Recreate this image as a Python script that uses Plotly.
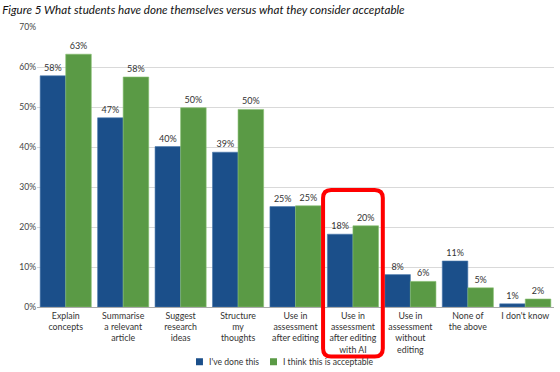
import plotly.graph_objects as go

categories = [
    "Explain<br>concepts",
    "Summarise<br>a relevant<br>article",
    "Suggest<br>research<br>ideas",
    "Structure<br>my<br>thoughts",
    "Use in<br>assessment<br>after editing",
    "Use in<br>assessment<br>after editing<br>with AI",
    "Use in<br>assessment<br>without<br>editing",
    "None of<br>the above",
    "I don't know",
]
done_values = [57.8, 47.3, 40.1, 38.7, 25.1, 18.2, 8.1, 11.5, 0.8]
done_labels = ["58%", "47%", "40%", "39%", "25%", "18%", "8%", "11%", "1%"]
accept_values = [63.2, 57.5, 49.8, 49.4, 25.3, 20.3, 6.4, 4.8, 2.0]
accept_labels = ["63%", "58%", "50%", "50%", "25%", "20%", "6%", "5%", "2%"]
series_names = ["I've done this", "I think this is acceptable"]
y_ticks = [0, 10, 20, 30, 40, 50, 60, 70]
y_tick_labels = ["0%", "10%", "20%", "30%", "40%", "50%", "60%", "70%"]

BLUE = "#1b4f8a"
GREEN = "#5a9a45"
FONT = "Lato, Open Sans, sans-serif"

fig = go.Figure()
fig.add_trace(go.Bar(
    name=series_names[0], x=categories, y=done_values,
    text=done_labels, textposition="outside", cliponaxis=False,
    marker=dict(color=BLUE, line=dict(color="#4a78ad", width=0.6)),
    textfont=dict(size=9, color="#333333"), showlegend=False,
))
fig.add_trace(go.Bar(
    name=series_names[1], x=categories, y=accept_values,
    text=accept_labels, textposition="outside", cliponaxis=False,
    marker=dict(color=GREEN, line=dict(color="#86bf70", width=0.6)),
    textfont=dict(size=9, color="#333333"), showlegend=False,
))

# highlight box around the "with AI" category
x0, x1 = 4.48, 5.52
y0, y1 = -0.177, 0.418
rx, ry = 0.14, 0.029
path = (f"M {x0+rx},{y0} L {x1-rx},{y0} Q {x1},{y0} {x1},{y0+ry} "
        f"L {x1},{y1-ry} Q {x1},{y1} {x1-rx},{y1} L {x0+rx},{y1} "
        f"Q {x0},{y1} {x0},{y1-ry} L {x0},{y0+ry} Q {x0},{y0} {x0+rx},{y0} Z")
fig.add_shape(type="path", xref="x", yref="paper", path=path,
              line=dict(color="#ff0000", width=4), layer="above")

# legend (drawn as small squares + text)
legend_items = [(0.3075, BLUE, series_names[0]), (0.4507, GREEN, series_names[1])]
for lx, col, name in legend_items:
    fig.add_shape(type="rect", xref="paper", yref="paper",
                  x0=lx, x1=lx + 0.0135, y0=-0.208, y1=-0.183,
                  fillcolor=col, line=dict(width=0))
    fig.add_annotation(xref="paper", yref="paper", x=lx + 0.021, y=-0.195,
                       xanchor="left", yanchor="middle", text=name,
                       showarrow=False, font=dict(size=8.6, color="#333333"))

fig.update_layout(
    width=560, height=372,
    margin=dict(l=37, r=6, t=27, b=65, autoexpand=False),
    paper_bgcolor="white", plot_bgcolor="white",
    barmode="group", bargap=0.11, bargroupgap=0,
    font=dict(family=FONT, size=9, color="#333333"),
    title=dict(
        text="<i>Figure 5 What students have done themselves versus what they consider acceptable</i>",
        x=0.004, xanchor="left", xref="container", y=0.972, yanchor="middle",
        font=dict(family=FONT, size=11.6, color="#111111"),
    ),
    showlegend=False,
    yaxis=dict(range=[0, 70], tickvals=y_ticks, ticktext=y_tick_labels,
               showgrid=True, gridcolor="#d9d9d9", gridwidth=1,
               zeroline=False, showline=False, ticks="",
               tickfont=dict(size=8.5, color="#444444")),
    xaxis=dict(showline=True, linecolor="#aaaaaa", linewidth=1, ticks="",
               tickfont=dict(size=8.8, color="#333333"), tickangle=0),
)

fig.write_html(
    "out.html",
    config={"displayModeBar": False},
    post_script="document.body.style.margin='0';document.body.style.overflow='hidden';",
)
